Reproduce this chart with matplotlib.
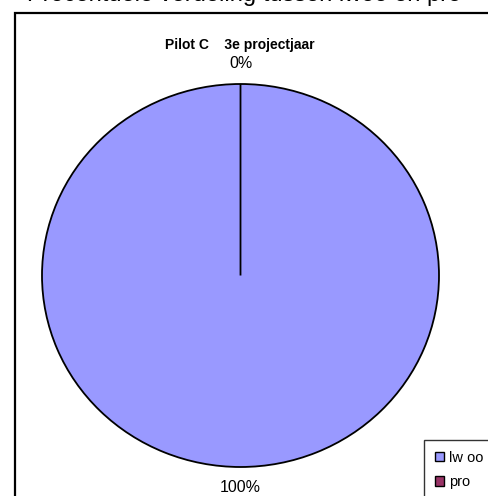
import matplotlib
matplotlib.use("Agg")
import matplotlib.pyplot as plt
from matplotlib.patches import Rectangle

plt.rcParams["font.family"] = ["Liberation Sans", "DejaVu Sans"]

categories = ["lw oo", "pro"]
values = [100, 0]
colors = ["#9999FF", "#993366"]
title = "Pilot C    3e projectjaar"
page_heading = "Procentuele verdeling tussen lwoo en pro"

W, H = 489, 496
fig = plt.figure(figsize=(W / 100, H / 100), dpi=100)

# heading of the page above, mostly cut off
fig.text(0.5, 1 - 1.2 / H, page_heading, ha="center", va="baseline", fontsize=17)

# chart frame (right and bottom fall outside the picture)
fig.patches.append(Rectangle((15 / W, -0.1), 1.2, 1 - 13 / H + 0.1,
                             transform=fig.transFigure, fill=False,
                             edgecolor="black", linewidth=1.6))

ax = fig.add_axes([0, 0, 1, 1])
total = sum(values)
labels = [f"{v / total * 100:.0f}%" for v in values]
wedges, texts = ax.pie(values, colors=colors, startangle=90, counterclock=False,
                       labels=labels, labeldistance=1.105,
                       wedgeprops=dict(edgecolor="black", linewidth=1.3))
for t in texts:
    t.set_fontsize(11.5)
    t.set_ha("center")
    t.set_va("center")

cx, cy, rx, ry = 240.5, H - 275.5, 198.5, 191.5
ax.set_aspect("auto")
ax.set_xlim(-cx / rx, (W - cx) / rx)
ax.set_ylim(-cy / ry, (H - cy) / ry)
ax.axis("off")

fig.text(240 / W, 1 - 45 / H, title, ha="center", va="center",
         fontsize=10, fontweight="bold")

leg = fig.legend(wedges, categories, loc="upper left",
                 bbox_to_anchor=(424 / W, 1 - 440 / H), fontsize=10.5,
                 frameon=True, fancybox=False, handlelength=0.6,
                 handleheight=0.6, handletextpad=0.35, labelspacing=0.7,
                 borderpad=0.75, borderaxespad=0)
leg.get_frame().set_edgecolor("black")
leg.get_frame().set_linewidth(1.0)
for h in leg.legend_handles:
    h.set_edgecolor("black")
    h.set_linewidth(1.0)

fig.savefig("out.png", dpi=100)
